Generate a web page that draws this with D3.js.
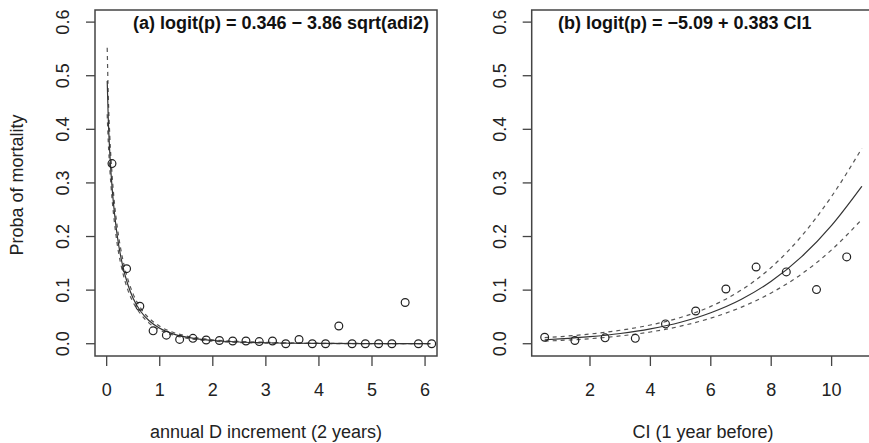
<!DOCTYPE html>
<html>
<head>
<meta charset="utf-8">
<script src="https://cdn.jsdelivr.net/npm/d3@7"></script>
<style>
  html, body { margin: 0; padding: 0; background: #fff; }
  svg { display: block; font-family: "Liberation Sans", Arial, Helvetica, sans-serif; }
</style>
</head>
<body>
<div id="chart"></div>
<script>
// tick labels
const yTicks = [0, 0.1, 0.2, 0.3, 0.4, 0.5, 0.6];
const xTicksA = [0, 1, 2, 3, 4, 5, 6];
const xTicksB = [2, 4, 6, 8, 10];

// (a) observed mortality per class of annual diameter increment
const adiClasses = [0.1, 0.375, 0.625, 0.875, 1.125, 1.375, 1.625, 1.875, 2.125, 2.375, 2.625, 2.875,
    3.125, 3.375, 3.625, 3.875, 4.125, 4.375, 4.625, 4.875, 5.125, 5.375, 5.625, 5.875, 6.125];
const adiMortality = [0.336, 0.140, 0.070, 0.024, 0.016, 0.008, 0.010, 0.007, 0.006, 0.005, 0.005, 0.004,
    0.005, 0, 0.008, 0, 0, 0.033, 0, 0, 0, 0, 0.077, 0, 0];

// (a) fitted curve and its confidence band
const fitAdi = [0.01, 0.03, 0.06, 0.1, 0.15, 0.2, 0.3, 0.4, 0.5, 0.65, 0.8, 1.0, 1.25, 1.5, 2, 2.5, 3, 4, 5, 6.1];
const fitAdiP = [0.490, 0.420, 0.354, 0.294, 0.241, 0.201, 0.146, 0.110, 0.0845, 0.0592, 0.0428, 0.0289,
    0.0185, 0.0124, 0.0060, 0.0032, 0.0018, 0.0006, 0.00025, 0.0001];
const fitAdiUpper = [0.552, 0.464, 0.385, 0.318, 0.259, 0.2175, 0.159, 0.120, 0.0925, 0.065, 0.0476, 0.0325,
    0.0213, 0.0145, 0.0073, 0.0044, 0.0026, 0.001, 0.0004, 0.0002];
const fitAdiLower = [0.428, 0.377, 0.325, 0.272, 0.223, 0.185, 0.134, 0.100, 0.077, 0.054, 0.0385, 0.0257,
    0.0162, 0.0105, 0.0049, 0.0022, 0.0012, 0.0004, 0.00015, 0.00006];

// (b) observed mortality per class of competition index
const ciClasses = [0.5, 1.5, 2.5, 3.5, 4.5, 5.5, 6.5, 7.5, 8.5, 9.5, 10.5];
const ciMortality = [0.012, 0.006, 0.011, 0.010, 0.037, 0.061, 0.102, 0.143, 0.134, 0.101, 0.162];

// (b) fitted curve and its confidence band
const fitCi = [0.5, 1, 2, 3, 4, 5, 6, 7, 8, 9, 10, 11];
const fitCiP = [0.0074, 0.0090, 0.0131, 0.0191, 0.0277, 0.0401, 0.0578, 0.0825, 0.1165, 0.1620, 0.2210, 0.2938];
const fitCiUpper = [0.0112, 0.0132, 0.0181, 0.0251, 0.0350, 0.0490, 0.0696, 0.0998, 0.1423, 0.2005, 0.2749, 0.3643];
const fitCiLower = [0.0049, 0.0061, 0.0094, 0.0145, 0.0219, 0.0328, 0.0478, 0.0679, 0.0948, 0.1298, 0.1751, 0.2320];

const W = 869, H = 443;
const plotTop = 10, plotBottom = 356;

const svg = d3.select('#chart')
    .append('svg')
    .attr('width', W)
    .attr('height', H);

function drawPanel(p) {
    const x = d3.scaleLinear().domain(p.xDomain).range([p.left, p.right]);
    const y = d3.scaleLinear().domain([-0.0229, 0.6226]).range([plotBottom, plotTop]);
    const g = svg.append('g');

    // box
    g.append('rect')
        .attr('x', p.left).attr('y', plotTop)
        .attr('width', p.right - p.left).attr('height', plotBottom - plotTop)
        .attr('fill', 'none').attr('stroke', '#444').attr('stroke-width', 1.5);

    // y axis
    g.selectAll('.ytick').data(yTicks).enter().append('line')
        .attr('x1', p.left - 9).attr('x2', p.left)
        .attr('y1', d => y(d)).attr('y2', d => y(d))
        .attr('stroke', '#444').attr('stroke-width', 1.3);
    g.selectAll('.ylab').data(yTicks).enter().append('text')
        .attr('transform', d => `translate(${p.left - 26},${y(d)}) rotate(-90)`)
        .attr('text-anchor', 'middle')
        .attr('font-size', 18).attr('fill', '#222')
        .text(d => d.toFixed(1));

    // x axis
    g.selectAll('.xtick').data(p.xTicks).enter().append('line')
        .attr('x1', d => x(d)).attr('x2', d => x(d))
        .attr('y1', plotBottom).attr('y2', plotBottom + 10)
        .attr('stroke', '#444').attr('stroke-width', 1.3);
    g.selectAll('.xlab').data(p.xTicks).enter().append('text')
        .attr('x', d => x(d)).attr('y', 396)
        .attr('text-anchor', 'middle')
        .attr('font-size', 18).attr('fill', '#222')
        .text(d => d);

    g.append('text')
        .attr('x', (p.left + p.right) / 2).attr('y', 438)
        .attr('text-anchor', 'middle')
        .attr('font-size', 18).attr('fill', '#222')
        .text(p.xTitle);

    // fitted curves
    const line = d3.line()
        .x(d => x(d[0]))
        .y(d => y(d[1]))
        .curve(d3.curveMonotoneX);

    [p.lower, p.upper].forEach(band => {
        g.append('path')
            .attr('d', line(d3.zip(p.fitX, band)))
            .attr('fill', 'none').attr('stroke', '#555')
            .attr('stroke-width', 1.2).attr('stroke-dasharray', '4,4');
    });
    g.append('path')
        .attr('d', line(d3.zip(p.fitX, p.fitP)))
        .attr('fill', 'none').attr('stroke', '#333').attr('stroke-width', 1.2);

    // observed points
    g.selectAll('.pt').data(d3.zip(p.px, p.py)).enter().append('circle')
        .attr('cx', d => x(d[0])).attr('cy', d => y(d[1]))
        .attr('r', 3.9)
        .attr('fill', 'none').attr('stroke', '#222').attr('stroke-width', 1.2);

    // title
    g.append('text')
        .attr('x', p.titleX).attr('y', 29)
        .attr('font-size', 18).attr('font-weight', 'bold').attr('fill', '#111')
        .text(p.title);
}

drawPanel({
    left: 95, right: 437, xDomain: [-0.22, 6.225], xTicks: xTicksA,
    xTitle: 'annual D increment (2 years)',
    title: '(a) logit(p) = 0.346 \u2212 3.86 sqrt(adi2)', titleX: 133,
    px: adiClasses, py: adiMortality,
    fitX: fitAdi, fitP: fitAdiP, upper: fitAdiUpper, lower: fitAdiLower
});

drawPanel({
    left: 531.7, right: 874.5, xDomain: [0.07, 11.42], xTicks: xTicksB,
    xTitle: 'CI (1 year before)',
    title: '(b) logit(p) = \u22125.09 + 0.383 CI1', titleX: 558,
    px: ciClasses, py: ciMortality,
    fitX: fitCi, fitP: fitCiP, upper: fitCiUpper, lower: fitCiLower
});

// shared y title
svg.append('text')
    .attr('transform', `translate(23,${(plotTop + plotBottom) / 2 + 2}) rotate(-90)`)
    .attr('text-anchor', 'middle')
    .attr('font-size', 18).attr('fill', '#222')
    .text('Proba of mortality');
</script>
</body>
</html>
